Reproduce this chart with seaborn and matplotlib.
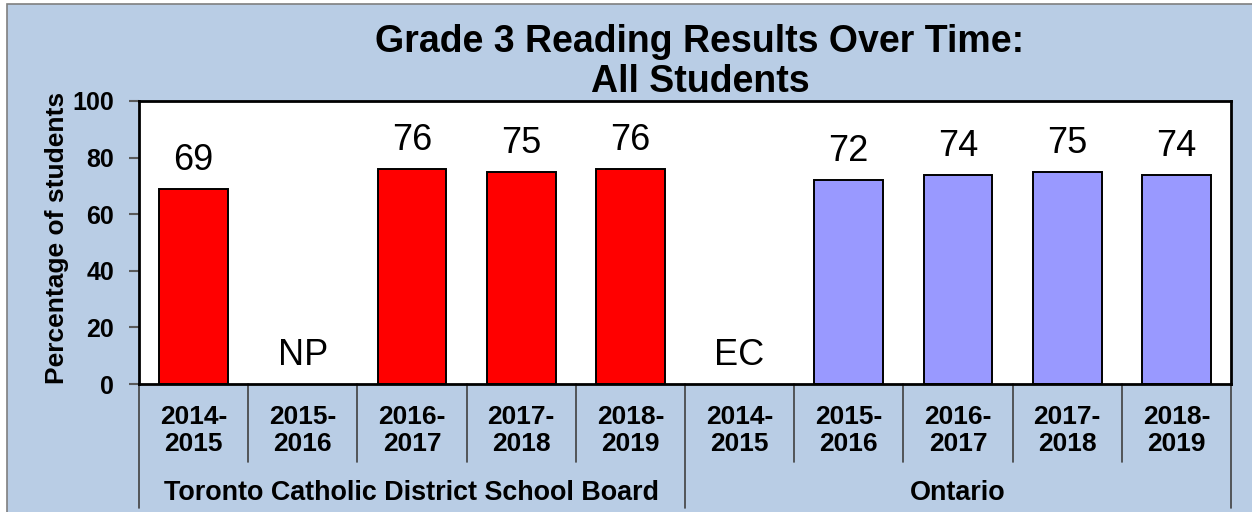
import numpy as np
import pandas as pd
import matplotlib
matplotlib.use("Agg")
import matplotlib.pyplot as plt
import matplotlib.transforms as mtransforms
from matplotlib.patches import Rectangle
import seaborn as sns

# ---- data ----
groups = ["Toronto Catholic District School Board", "Ontario"]
years = ["2014-\n2015", "2015-\n2016", "2016-\n2017", "2017-\n2018", "2018-\n2019"]
tcdsb_values = [69, None, 76, 75, 76]
tcdsb_codes = ["", "NP", "", "", ""]
ontario_values = [None, 72, 74, 75, 74]
ontario_codes = ["EC", "", "", "", ""]
title = "Grade 3 Reading Results Over Time:\nAll Students"
ylabel = "Percentage of students"
yticks = [0, 20, 40, 60, 80, 100]

rows = []
for g, vals, codes in [(groups[0], tcdsb_values, tcdsb_codes),
                       (groups[1], ontario_values, ontario_codes)]:
    for y, v, c in zip(years, vals, codes):
        rows.append({"slot": f"{g}|{y}", "year": y, "group": g,
                     "value": np.nan if v is None else v, "code": c})
df = pd.DataFrame(rows)
order = list(df["slot"])

sns.set_style("white")
plt.rcParams["font.family"] = ["Liberation Sans", "DejaVu Sans"]
plt.rcParams["text.color"] = "black"
plt.rcParams["axes.labelcolor"] = "black"
plt.rcParams["xtick.color"] = "black"
plt.rcParams["ytick.color"] = "black"

W, H = 1252, 512
fig = plt.figure(figsize=(W / 100, H / 100), dpi=100, facecolor="white")
# outer light-blue frame
frame = Rectangle((7 / W, -0.01), 1.02, 1 - 4 / H + 0.01,
                  transform=fig.transFigure, facecolor="#B9CDE5",
                  edgecolor="#7F7F7F", linewidth=1.2, zorder=-10)
fig.patches.append(frame)

ax = fig.add_axes([139 / W, 1 - 384 / H, (1231 - 139) / W, (384 - 101) / H])
ax.set_zorder(5)
ax.set_facecolor("white")

sns.barplot(data=df, x="slot", y="value", hue="group", order=order,
            hue_order=groups, palette=["#FF0000", "#9999FF"], dodge=False,
            saturation=1, width=0.63, edgecolor="black", linewidth=1.4,
            legend=False, ax=ax, errorbar=None)

ax.set_ylim(0, 100)
ax.set_xlim(-0.5, len(order) - 0.5)
ax.set_yticks(yticks)
ax.set_yticklabels([str(t) for t in yticks], fontsize=18, fontweight="bold")
ax.tick_params(axis="y", direction="out", length=7, width=1.5, color="#595959",
               labelcolor="black", pad=11, left=True)
ax.tick_params(axis="x", bottom=False, labelbottom=False)
ax.set_xlabel("")
ax.set_ylabel("")
for s in ax.spines.values():
    s.set_color("black")
    s.set_linewidth(2)

# value labels
for i, row in df.iterrows():
    v = row["value"]
    txt = row["code"] if np.isnan(v) else f"{int(v)}"
    yv = 0 if np.isnan(v) else v
    ax.annotate(txt, (i, yv), xytext=(0, 13.5), textcoords="offset points",
                ha="center", va="baseline", fontsize=26, color="black")

# category axis dividers and labels
trans = mtransforms.blended_transform_factory(ax.transData, ax.transAxes)
short_y = -(462 - 384) / 283
long_y = -(508 - 384) / 283
n = len(order)
for k in range(n + 1):
    xb = k - 0.5
    yend = long_y if k in (0, 5, 10) else short_y
    ax.plot([xb, xb], [0, yend], transform=trans, color="#404040",
            linewidth=1.2, clip_on=False)
for i, row in df.iterrows():
    ax.text(i, -0.165, row["year"], transform=trans, ha="center", va="center",
            fontsize=19, fontweight="bold", linespacing=1.15)
for gi, g in enumerate(groups):
    ax.text(gi * 5 + 2, -0.385, g, transform=trans, ha="center", va="center",
            fontsize=19.4, fontweight="bold")

fig.text(57 / W, 1 - 238 / H, ylabel, rotation=90, ha="center", va="center",
         fontsize=19, fontweight="bold")
fig.text(700 / W, 1 - 62 / H, title, ha="center", va="center",
         fontsize=27, fontweight="bold", linespacing=1.15)

fig.savefig("out.png", dpi=100, facecolor="white")
